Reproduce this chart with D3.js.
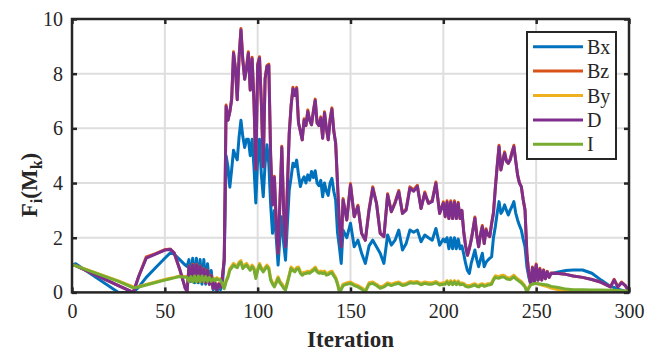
<!DOCTYPE html>
<html><head><meta charset="utf-8">
<script src="https://cdn.jsdelivr.net/npm/d3@7"></script>
<style>body{margin:0;background:#fff;} svg{display:block;}</style>
</head><body>
<svg id="chart" width="649" height="357"></svg>
<script>
const iterations = [0,2,25,33,36,40,45,50,53,55,58,61,
62,63,64,65,66,67,68,69,70,71,72,73,74,75,76,77,78,79,80,81,82,
83,84,85,86,87,88,89,90,91,92,93,94,95,96,97,98,99,100,101,102,103,104,105,106,107,108,109,110,111,112,113,114,115,116,117,118,119,120,121,122,123,124,125,126,127,128,129,130,131,132,133,134,135,136,137,138,139,140,141,142,143,144,145,
146,148,150,152,154,156,158,160,162,164,166,168,170,172,174,176,178,180,182,184,186,188,190,192,194,196,198,200,
201,202,203,204,205,206,207,208,209,210,211,212,213,214,215,216,217,218,219,220,221,222,223,224,225,226,227,228,229,230,231,232,233,234,235,236,237,238,239,240,241,242,243,244,245,246,247,248,249,250,251,252,253,254,255,256,257,258,
262,266,270,275,280,285,290,292,294,296,298,300];

const seriesNames = ["Bx","Bz","By","D","I"];

const bxValues = [1.0,1.05,0.0,0.0,0.2,0.55,0.9,1.25,1.45,1.4,1.2,1.0,
0.95,1.2,0.4,1.25,0.35,1.25,0.35,1.2,0.3,1.2,0.3,1.05,0.3,0.8,0.1,0.2,0.05,0.15,0.1,0.3,1.2,
5.0,4.6,3.85,4.5,5.2,5.0,4.85,5.7,6.3,5.7,5.3,5.6,5.6,5.0,5.6,4.6,3.27,4.85,5.6,4.3,3.5,4.7,5.4,4.7,3.2,2.16,3.0,2.0,1.0,2.0,2.77,1.8,1.18,2.5,3.74,4.2,4.72,4.6,4.84,4.3,3.87,4.1,4.23,4.0,4.3,4.1,4.42,4.2,4.45,4.0,3.9,4.1,3.5,4.0,3.7,3.55,4.0,4.17,3.7,3.38,2.2,1.67,1.06,
2.28,2.0,2.53,1.67,1.91,1.43,1.06,1.7,1.91,1.67,1.43,1.06,2.1,1.73,1.91,2.28,1.55,1.79,2.28,2.2,2.28,1.85,2.1,2.0,1.91,2.34,1.73,1.95,
1.85,2.0,1.6,2.0,1.6,2.0,1.6,1.95,1.6,1.7,1.4,1.06,0.8,0.69,1.06,1.3,1.55,1.2,0.94,1.2,1.43,0.94,1.1,1.18,1.25,1.3,2.0,2.4,2.9,3.32,2.89,3.0,3.2,3.0,2.83,3.01,3.15,3.32,2.9,2.65,2.45,2.28,1.95,1.67,0.94,0.57,0.3,0.6,0.35,0.65,0.45,0.65,0.5,0.65,0.55,0.65,0.62,0.68,
0.75,0.8,0.82,0.82,0.7,0.45,0.22,0.18,0.12,0.08,0.04,0.02];

const bzValues = [1.0,0.98,0.25,0.0,0.6,1.3,1.42,1.56,1.59,1.45,0.85,0.15,
0.05,0.97,0.45,1.03,0.45,1.03,0.4,0.97,0.4,0.87,0.35,0.82,0.3,0.62,0.15,0.37,0.1,0.32,0.2,0.57,1.22,
6.85,6.3,6.6,7.1,8.8,8.2,7.05,8.65,9.65,8.5,7.8,8.25,8.8,7.4,8.6,7.0,4.5,8.35,8.62,6.9,4.6,7.85,8.3,8.35,5.0,3.2,4.25,2.6,1.43,3.35,5.35,3.0,1.67,3.85,5.85,6.85,7.5,7.2,7.5,6.2,5.9,5.58,6.35,6.1,6.67,6.3,6.13,6.65,7.07,6.2,6.1,6.42,5.64,6.61,6.0,5.58,6.35,6.75,5.9,5.46,4.0,2.5,1.67,
3.43,2.65,3.98,2.77,3.19,2.16,1.91,3.05,3.86,3.26,2.16,2.04,3.61,2.95,3.31,3.73,2.89,3.06,3.86,3.75,3.92,3.07,3.67,3.26,3.37,4.04,2.89,3.31,
2.77,3.35,2.7,3.35,2.7,3.35,2.7,3.3,2.7,3.0,2.2,1.7,1.36,1.6,1.91,2.33,2.76,2.1,1.67,2.13,2.45,1.79,2.33,2.1,2.04,2.53,2.94,3.83,4.65,5.38,4.48,4.85,5.14,4.8,4.72,4.89,5.15,5.38,4.8,4.29,4.0,3.87,3.4,3.01,1.43,0.69,0.35,0.93,0.4,1.04,0.45,0.88,0.45,0.83,0.5,0.77,0.55,0.71,
0.69,0.66,0.6,0.55,0.47,0.37,0.2,0.48,0.2,0.38,0.25,0.05];

const byValues = [1.0,0.98,0.42,0.2,0.22,0.29,0.38,0.47,0.52,0.55,0.6,0.58,
0.58,0.44,0.62,0.42,0.64,0.42,0.64,0.42,0.64,0.44,0.62,0.44,0.59,0.44,0.54,0.46,0.54,0.49,0.49,0.34,0.18,
0.44,0.6,0.87,0.96,1.06,1.0,0.96,1.11,1.16,0.93,1.01,1.06,0.96,0.87,1.0,0.91,0.57,0.86,1.06,0.91,0.81,0.91,1.0,0.91,0.51,0.36,0.26,0.41,0.57,0.41,0.32,0.21,0.14,0.39,0.66,0.93,0.86,0.81,0.91,0.93,0.76,0.69,0.74,0.75,0.78,0.76,0.81,0.86,0.93,0.81,0.76,0.78,0.75,0.78,0.69,0.71,0.76,0.78,0.66,0.56,0.35,0.06,0.15,
0.3,0.35,0.38,0.3,0.25,0.17,0.06,0.35,0.38,0.3,0.2,0.25,0.35,0.3,0.35,0.38,0.3,0.33,0.4,0.38,0.4,0.33,0.38,0.35,0.35,0.4,0.32,0.35,
0.35,0.43,0.33,0.43,0.33,0.43,0.33,0.42,0.33,0.35,0.33,0.27,0.25,0.25,0.27,0.3,0.32,0.27,0.25,0.3,0.32,0.27,0.29,0.32,0.33,0.35,0.5,0.61,0.59,0.58,0.61,0.63,0.61,0.56,0.54,0.53,0.58,0.63,0.56,0.5,0.45,0.4,0.32,0.23,0.03,0.18,0.3,0.32,0.33,0.33,0.31,0.29,0.27,0.25,0.23,0.21,0.19,0.16,
0.1,0.06,0.03,0.02,0.02,0.01,0.01,0.01,0.01,0.0,0.0,0.0];

const dValues = [1.0,0.98,0.25,0.0,0.6,1.25,1.4,1.55,1.57,1.45,0.85,0.15,
0.05,0.95,0.45,1.0,0.45,1.0,0.4,0.95,0.4,0.85,0.35,0.8,0.3,0.6,0.15,0.35,0.1,0.3,0.2,0.55,1.2,
6.8,6.3,6.6,7.05,8.75,8.2,7.05,8.6,9.6,8.5,7.8,8.2,8.75,7.4,8.55,7.0,4.5,8.3,8.57,6.9,4.6,7.8,8.26,8.3,5.0,3.2,4.2,2.6,1.43,3.3,5.3,3.0,1.67,3.8,5.8,6.8,7.45,7.2,7.45,6.2,5.9,5.58,6.3,6.1,6.62,6.3,6.13,6.6,7.02,6.2,6.1,6.37,5.64,6.56,6.0,5.58,6.3,6.7,5.9,5.46,4.0,2.5,1.67,
3.38,2.65,3.93,2.77,3.14,2.16,1.91,3.0,3.81,3.26,2.16,2.04,3.56,2.95,3.26,3.68,2.89,3.01,3.81,3.7,3.87,3.07,3.62,3.26,3.32,3.99,2.89,3.26,
2.77,3.3,2.7,3.3,2.7,3.3,2.7,3.25,2.7,3.0,2.2,1.7,1.36,1.6,1.91,2.3,2.71,2.1,1.67,2.1,2.4,1.79,2.28,2.1,2.04,2.5,2.89,3.8,4.6,5.33,4.48,4.8,5.09,4.8,4.72,4.84,5.1,5.33,4.8,4.29,4.0,3.87,3.4,3.01,1.43,0.69,0.35,0.9,0.4,1.0,0.45,0.85,0.45,0.8,0.5,0.75,0.55,0.7,
0.69,0.66,0.6,0.55,0.47,0.37,0.2,0.45,0.2,0.35,0.25,0.05];

const iValues = [1.0,0.97,0.4,0.17,0.2,0.27,0.36,0.45,0.5,0.53,0.58,0.55,
0.55,0.4,0.58,0.38,0.6,0.38,0.6,0.38,0.6,0.4,0.58,0.4,0.55,0.4,0.5,0.42,0.5,0.45,0.45,0.3,0.14,
0.39,0.55,0.81,0.9,1.0,0.94,0.9,1.05,1.1,0.87,0.95,1.0,0.9,0.81,0.94,0.85,0.51,0.8,1.0,0.85,0.75,0.85,0.94,0.85,0.45,0.3,0.2,0.35,0.51,0.35,0.26,0.15,0.08,0.33,0.6,0.87,0.8,0.75,0.85,0.87,0.7,0.63,0.68,0.69,0.72,0.7,0.75,0.8,0.87,0.75,0.7,0.72,0.69,0.72,0.63,0.65,0.7,0.72,0.6,0.5,0.3,0.02,0.1,
0.25,0.3,0.33,0.25,0.2,0.12,0.02,0.3,0.33,0.25,0.15,0.2,0.3,0.25,0.3,0.33,0.25,0.28,0.35,0.33,0.35,0.28,0.33,0.3,0.3,0.35,0.27,0.3,
0.3,0.38,0.28,0.38,0.28,0.38,0.28,0.37,0.28,0.3,0.28,0.22,0.2,0.2,0.22,0.25,0.27,0.22,0.2,0.25,0.27,0.22,0.24,0.27,0.28,0.3,0.45,0.55,0.53,0.52,0.55,0.57,0.55,0.5,0.48,0.47,0.52,0.57,0.5,0.45,0.4,0.35,0.28,0.2,0.02,0.15,0.27,0.3,0.32,0.33,0.32,0.31,0.3,0.29,0.28,0.27,0.25,0.22,
0.18,0.12,0.1,0.1,0.09,0.09,0.08,0.08,0.07,0.06,0.05,0.04];

const xTickValues = [0,50,100,150,200,250,300];
const yTickValues = [0,2,4,6,8,10];
const xLabel = "Iteration";

const seriesValues = [bxValues, bzValues, byValues, dValues, iValues];
const colors = ["#0072BD","#D95319","#EDB120","#7E2F8E","#77AC30"];

const svg = d3.select("#chart");
const L = 72, R = 629, T = 19, B = 292.4;
const x = d3.scaleLinear().domain([0,300]).range([L,R]);
const y = d3.scaleLinear().domain([0,10]).range([B,T]);
const serif = "Liberation Serif, Times New Roman, serif";

// grid
const grid = svg.append("g");
grid.selectAll(".gx").data(xTickValues.filter(d=>d>0&&d<300)).enter().append("line")
  .attr("x1",d=>x(d)).attr("x2",d=>x(d)).attr("y1",T).attr("y2",B)
  .attr("stroke","#dedede").attr("stroke-width",2);
grid.selectAll(".gy").data(yTickValues.filter(d=>d>0&&d<10)).enter().append("line")
  .attr("y1",d=>y(d)).attr("y2",d=>y(d)).attr("x1",L).attr("x2",R)
  .attr("stroke","#dedede").attr("stroke-width",2);

// clip
svg.append("clipPath").attr("id","clip").append("rect")
  .attr("x",L).attr("y",T).attr("width",R-L).attr("height",B-T);

const line = d3.line().x((d,i)=>x(iterations[i])).y(d=>y(d));
const lines = svg.append("g").attr("clip-path","url(#clip)");
seriesValues.forEach((vals,k)=>{
  lines.append("path").attr("d",line(vals)).attr("fill","none")
    .attr("stroke",colors[k]).attr("stroke-width",3)
    .attr("stroke-linejoin","round").attr("stroke-linecap","round");
});

// axes
function styleAxis(g){
  g.attr("font-family",serif).attr("font-size",20);
  g.select(".domain").remove();
  g.selectAll(".tick line").attr("stroke","#262626").attr("stroke-width",2.5);
  g.selectAll("text").attr("fill","#262626");
}
svg.append("g").attr("transform",`translate(0,${B})`)
  .call(d3.axisBottom(x).tickValues(xTickValues).tickSize(-5).tickPadding(11).tickFormat(d3.format("d")))
  .call(styleAxis);
svg.append("g").attr("transform",`translate(0,${T})`)
  .call(d3.axisTop(x).tickValues(xTickValues).tickSize(-5).tickFormat(""))
  .call(styleAxis);
svg.append("g").attr("transform",`translate(${L},0)`)
  .call(d3.axisLeft(y).tickValues(yTickValues).tickSize(-5).tickPadding(9).tickFormat(d3.format("d")))
  .call(styleAxis);
svg.append("g").attr("transform",`translate(${R},0)`)
  .call(d3.axisRight(y).tickValues(yTickValues).tickSize(-5).tickFormat(""))
  .call(styleAxis);

// frame
svg.append("rect").attr("x",L).attr("y",T).attr("width",R-L).attr("height",B-T)
  .attr("fill","none").attr("stroke","#262626").attr("stroke-width",2.5);

// axis labels
svg.append("text").attr("x",(L+R)/2).attr("y",347).attr("text-anchor","middle")
  .attr("font-family",serif).attr("font-weight","bold").attr("font-size",23).attr("fill","#262626")
  .text(xLabel);

const yl = svg.append("text").attr("transform","translate(37,185) rotate(-90)")
  .attr("text-anchor","middle").attr("font-family",serif).attr("font-weight","bold")
  .attr("font-size",23).attr("fill","#262626");
yl.append("tspan").text("F");
yl.append("tspan").attr("font-size",16).attr("dy",5).text("i");
yl.append("tspan").attr("dy",-5).text("(M");
yl.append("tspan").attr("font-size",16).attr("dy",5).text("k");
yl.append("tspan").attr("dy",-5).text(")");

// legend
const lg = svg.append("g");
lg.append("rect").attr("x",527).attr("y",32).attr("width",89).attr("height",127)
  .attr("fill","#fff").attr("stroke","#262626").attr("stroke-width",2);
seriesNames.forEach((name,k)=>{
  const yy = 46.7 + k*24.4;
  lg.append("line").attr("x1",533).attr("x2",583).attr("y1",yy).attr("y2",yy)
    .attr("stroke",colors[k]).attr("stroke-width",3);
  lg.append("text").attr("x",587).attr("y",yy).attr("dy","0.35em")
    .attr("font-family",serif).attr("font-size",20).attr("fill","#262626").text(name);
});
</script>
</body></html>
